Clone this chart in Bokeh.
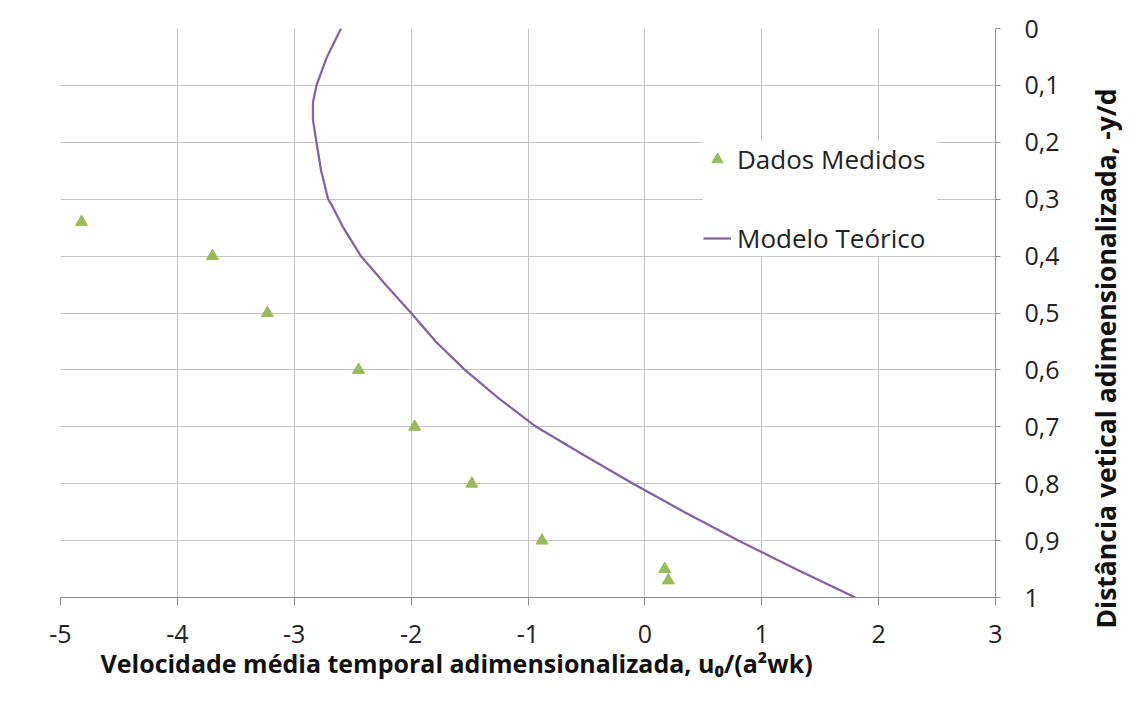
import math
from bokeh.plotting import figure
from bokeh.layouts import row
from bokeh.models import (Range1d, FixedTicker, CustomJSTickFormatter, Legend, LegendItem,
                          Title)
from bokeh.embed import file_html
from bokeh.resources import INLINE

# ---- data ----
dados_x = [-4.82, -3.70, -3.23, -2.45, -1.97, -1.48, -0.88, 0.17, 0.20]
dados_y = [0.34, 0.40, 0.50, 0.60, 0.70, 0.80, 0.90, 0.95, 0.97]

modelo_y = [0.00, 0.05, 0.10, 0.13, 0.16, 0.20, 0.25, 0.30, 0.31, 0.35, 0.40,
            0.45, 0.50, 0.55, 0.60, 0.65, 0.70, 0.75, 0.80, 0.85, 0.90, 0.95, 1.00]
modelo_x = [-2.60, -2.72, -2.81, -2.84, -2.84, -2.81, -2.77, -2.71, -2.68, -2.58, -2.43,
            -2.22, -2.00, -1.79, -1.54, -1.25, -0.93, -0.52, -0.10, 0.34, 0.80, 1.29, 1.80]

x_ticks = [-5, -4, -3, -2, -1, 0, 1, 2, 3]
y_ticks = [0, 0.1, 0.2, 0.3, 0.4, 0.5, 0.6, 0.7, 0.8, 0.9, 1.0]

x_title = "Velocidade média temporal adimensionalizada, u\u2080/(a\u00b2wk)"
y_title = "Distância vetical adimensionalizada, -y/d"
legend_labels = ["Dados Medidos", "Modelo Teórico"]

FONT = "Open Sans"
GREEN = "#9BBB59"
PURPLE = "#8064A2"
GRID = "#C4C4C4"
AXIS = "#8C8C8C"

W_MAIN = 1086
W_STRIP = 37

p = figure(width=W_MAIN, height=701, output_backend="svg", toolbar_location=None,
           x_range=Range1d(-5, 3), y_range=Range1d(1, 0),
           y_axis_location="right", min_border_left=60, min_border_right=W_MAIN - 995,
           min_border_top=28, min_border_bottom=104,
           background_fill_color="white", border_fill_color="white")
p.outline_line_color = None

p.xaxis.ticker = FixedTicker(ticks=x_ticks)
p.yaxis.ticker = FixedTicker(ticks=y_ticks)
p.xaxis.formatter = CustomJSTickFormatter(code="return tick.toString();")
p.yaxis.formatter = CustomJSTickFormatter(
    code="var s = (Math.round(tick*10)/10).toString(); return s.replace('.', ',');")

for ax in (p.xaxis, p.yaxis):
    ax.axis_line_color = AXIS
    ax.major_tick_line_color = AXIS
    ax.minor_tick_line_color = None
    ax.major_tick_in = 0
    ax.major_label_text_font = FONT
    ax.major_label_text_font_size = "25px"
    ax.major_label_text_color = "#222222"

p.xaxis.major_tick_out = 8
p.xaxis.major_label_standoff = 19
p.yaxis.major_tick_out = 5
p.yaxis.major_label_standoff = 24

p.xgrid.ticker = FixedTicker(ticks=x_ticks)
p.ygrid.ticker = FixedTicker(ticks=y_ticks)
p.xgrid.grid_line_color = GRID
p.ygrid.grid_line_color = GRID

r_pts = p.scatter(dados_x, dados_y, marker="triangle", size=12,
                  fill_color=GREEN, line_color=GREEN)
r_line = p.line(modelo_x, modelo_y, line_color=PURPLE, line_width=2.25)

legend = Legend(items=[LegendItem(label=legend_labels[0], renderers=[r_pts]),
                       LegendItem(label=legend_labels[1], renderers=[r_line])],
                location=(643, 341), margin=0, padding=20, spacing=43,
                glyph_width=28, glyph_height=28, label_height=28, label_width=200,
                label_standoff=6, label_text_font=FONT, label_text_font_size="26px",
                label_text_color="#222222", border_line_color=None,
                background_fill_color="white", background_fill_alpha=1.0)
p.add_layout(legend, "center")

# x-axis title below the axis
xt = Title(text=x_title, align="left", offset=40, vertical_align="middle", standoff=-2,
           text_font=FONT, text_font_size="25px", text_font_style="bold",
           text_color="#111111")
p.add_layout(xt, "below")

# narrow strip on the right holding the vertical axis title (reads bottom-to-top)
p2 = figure(width=W_STRIP, height=701, output_backend="svg", toolbar_location=None,
            x_range=Range1d(0, 1), y_range=Range1d(0, 1),
            x_axis_location=None, y_axis_location=None,
            min_border_left=0, min_border_right=0, min_border_top=28, min_border_bottom=104,
            background_fill_color="white", border_fill_color="white")
p2.outline_line_color = None
p2.grid.visible = False
yt = Title(text=y_title, align="right", offset=60, vertical_align="bottom", standoff=0,
           text_font=FONT, text_font_size="26.5px", text_font_style="bold",
           text_color="#111111")
p2.add_layout(yt, "left")

layout = row(p, p2, spacing=0)
open("out.html", "w").write(file_html(layout, INLINE))
